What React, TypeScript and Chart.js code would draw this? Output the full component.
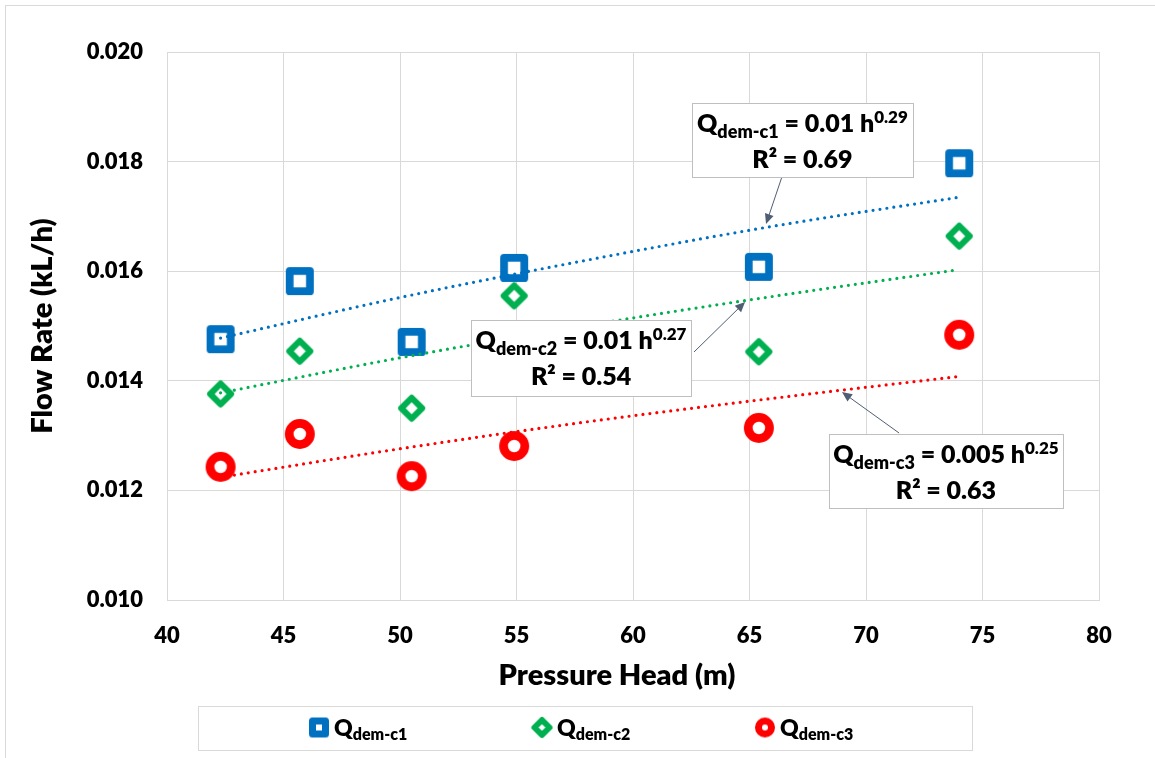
import React, { useEffect, useRef } from 'react';
import { Chart, registerables } from 'chart.js';

Chart.register(...registerables);

const FONT = 'Lato';
const W = '800';

// Measured data (pressure head in m, flow rate in kL/h)
const pressureHead = [42.3, 45.7, 50.5, 54.9, 65.4, 74.0];
const qDemC1 = [0.01476, 0.01582, 0.01471, 0.01606, 0.01608, 0.01797];
const qDemC2 = [0.01376, 0.01454, 0.0135, 0.01555, 0.01453, 0.01664];
const qDemC3 = [0.01243, 0.01303, 0.01226, 0.01281, 0.01314, 0.01484];

// Power trendlines
const trendHead = [42.3, 50, 58, 66, 74];
const trendC1 = [0.01478, 0.01552, 0.0162, 0.01682, 0.01735];
const trendC2 = [0.01378, 0.01442, 0.01501, 0.01554, 0.01603];
const trendC3 = [0.01224, 0.01276, 0.01325, 0.01368, 0.01408];

const seriesSubs = ['dem-c1', 'dem-c2', 'dem-c3'];
const eqCoef = ['0.01', '0.01', '0.005'];
const eqExp = ['0.29', '0.27', '0.25'];
const eqR2 = ['0.69', '0.54', '0.63'];

const xTitle = 'Pressure Head (m)';
const yTitle = 'Flow Rate (kL/h)';

const xTicksMin = 40;
const xTicksMax = 80;
const yTicksMin = 0.01;
const yTicksMax = 0.02;

const COLORS = ['#0070C0', '#00B050', '#FF0000'];

function makeMarker(kind: string, color: string, outer: number, lw: number): HTMLCanvasElement {
  const S = Math.ceil(outer + 6);
  const c = document.createElement('canvas');
  c.width = S;
  c.height = S;
  const ctx = c.getContext('2d')!;
  const m = S / 2;
  ctx.lineWidth = lw;
  ctx.strokeStyle = color;
  ctx.fillStyle = '#fff';
  ctx.lineJoin = 'round';
  ctx.beginPath();
  if (kind === 'square') {
    const h = (outer - lw) / 2;
    ctx.rect(m - h, m - h, 2 * h, 2 * h);
  } else if (kind === 'diamond') {
    const d = outer / 2 - lw / 2;
    ctx.moveTo(m, m - d);
    ctx.lineTo(m + d, m);
    ctx.lineTo(m, m + d);
    ctx.lineTo(m - d, m);
    ctx.closePath();
  } else {
    const r = (outer - lw) / 2;
    ctx.arc(m, m, r, 0, Math.PI * 2);
  }
  ctx.fill();
  ctx.stroke();
  return c;
}

type Seg = { text: string; size: number; dy: number };

function drawRich(ctx: CanvasRenderingContext2D, segs: Seg[], x0: number, baseline: number, align: 'center' | 'left') {
  const widths = segs.map((s) => {
    ctx.font = `${W} ${s.size}px ${FONT}`;
    return ctx.measureText(s.text).width;
  });
  const total = widths.reduce((a, b) => a + b, 0);
  let x = align === 'center' ? x0 - total / 2 : x0;
  ctx.textAlign = 'left';
  ctx.textBaseline = 'alphabetic';
  ctx.fillStyle = '#000';
  segs.forEach((s, i) => {
    ctx.font = `${W} ${s.size}px ${FONT}`;
    ctx.fillText(s.text, x, baseline + s.dy);
    x += widths[i];
  });
}

// Annotation anchors in data units: box center, box size (px), arrow start, arrow tip
const annoCenterX = [67.27, 57.77, 73.43];
const annoCenterY = [0.018394, 0.014407, 0.012354];
const annoW = [221, 220, 234];
const annoH = [74, 76, 74];
const arrowFromX = [66.39, 62.62, 71.42];
const arrowFromY = [0.017719, 0.014526, 0.013047];
const arrowToX = [65.71, 64.81, 68.97];
const arrowToY = [0.016861, 0.015438, 0.013796];

const overlayPlugin = {
  id: 'overlay',
  beforeDraw(chart: any) {
    const ctx = chart.ctx as CanvasRenderingContext2D;
    ctx.save();
    ctx.fillStyle = '#fff';
    ctx.fillRect(0, 0, chart.width, chart.height);
    ctx.restore();
  },
  afterDraw(chart: any) {
    const ctx = chart.ctx as CanvasRenderingContext2D;
    const xs = chart.scales.x;
    const ys = chart.scales.y;
    ctx.save();

    // outer chart border
    ctx.strokeStyle = '#D9D9D9';
    ctx.lineWidth = 1;
    ctx.strokeRect(5.5, 5.5, chart.width + 10, chart.height + 10);

    // x axis title (centred on the chart as in the original)
    ctx.font = `${W} 29px ${FONT}`;
    ctx.fillStyle = '#000';
    ctx.textAlign = 'center';
    ctx.textBaseline = 'middle';
    ctx.fillText(xTitle, 617, 676);

    for (let i = 0; i < 3; i++) {
      // arrow
      const fx = xs.getPixelForValue(arrowFromX[i]);
      const fy = ys.getPixelForValue(arrowFromY[i]);
      const tx = xs.getPixelForValue(arrowToX[i]);
      const ty = ys.getPixelForValue(arrowToY[i]);
      const ang = Math.atan2(ty - fy, tx - fx);
      ctx.strokeStyle = '#4F5E72';
      ctx.fillStyle = '#4F5E72';
      ctx.lineWidth = 1;
      ctx.beginPath();
      ctx.moveTo(fx, fy);
      ctx.lineTo(tx - Math.cos(ang) * 6, ty - Math.sin(ang) * 6);
      ctx.stroke();
      const hl = 10;
      const hw = 4.5;
      ctx.beginPath();
      ctx.moveTo(tx, ty);
      ctx.lineTo(tx - Math.cos(ang) * hl - Math.sin(ang) * hw, ty - Math.sin(ang) * hl + Math.cos(ang) * hw);
      ctx.lineTo(tx - Math.cos(ang) * hl + Math.sin(ang) * hw, ty - Math.sin(ang) * hl - Math.cos(ang) * hw);
      ctx.closePath();
      ctx.fill();

      // box
      const cx = xs.getPixelForValue(annoCenterX[i]);
      const cy = ys.getPixelForValue(annoCenterY[i]);
      const left = Math.round(cx - annoW[i] / 2) + 0.5;
      const top = Math.round(cy - annoH[i] / 2) + 0.5;
      ctx.fillStyle = '#fff';
      ctx.fillRect(left, top, annoW[i], annoH[i]);
      ctx.strokeStyle = '#BFBFBF';
      ctx.lineWidth = 1;
      ctx.strokeRect(left, top, annoW[i], annoH[i]);
      drawRich(
        ctx,
        [
          { text: 'Q', size: 25, dy: 0 },
          { text: seriesSubs[i], size: 18, dy: 6 },
          { text: ` = ${eqCoef[i]} h`, size: 25, dy: 0 },
          { text: eqExp[i], size: 17, dy: -9 },
        ],
        cx,
        top + 28,
        'center'
      );
      drawRich(ctx, [{ text: `R² = ${eqR2[i]}`, size: 25, dy: 0 }], cx, top + 64, 'center');
    }

    // legend
    ctx.fillStyle = '#fff';
    ctx.fillRect(198.5, 706.5, 774, 44);
    ctx.strokeStyle = '#D9D9D9';
    ctx.lineWidth = 1;
    ctx.strokeRect(198.5, 706.5, 774, 44);
    const legendCx = [319, 542, 765];
    const legendMarkers = [
      makeMarker('square', COLORS[0], 20, 7),
      makeMarker('diamond', COLORS[1], 21, 6),
      makeMarker('circle', COLORS[2], 20, 7),
    ];
    for (let i = 0; i < 3; i++) {
      const mk = legendMarkers[i];
      ctx.drawImage(mk, legendCx[i] - mk.width / 2, 727.5 - mk.height / 2);
      drawRich(
        ctx,
        [
          { text: 'Q', size: 23, dy: 0 },
          { text: seriesSubs[i], size: 16, dy: 4 },
        ],
        legendCx[i] + 15,
        736,
        'left'
      );
    }
    ctx.restore();
  },
};

export default function App() {
  const ref = useRef<HTMLCanvasElement | null>(null);

  useEffect(() => {
    document.body.style.margin = '0';
    const canvas = ref.current;
    if (!canvas) return;
    const markers = [
      makeMarker('square', COLORS[0], 28, 7.75),
      makeMarker('diamond', COLORS[1], 27, 6.2),
      makeMarker('circle', COLORS[2], 30, 8.75),
    ];
    const values = [qDemC1, qDemC2, qDemC3];
    const trends = [trendC1, trendC2, trendC3];
    const datasets: any[] = [];
    for (let i = 0; i < 3; i++) {
      datasets.push({
        label: 'Q' + seriesSubs[i],
        data: pressureHead.map((x, j) => ({ x, y: values[i][j] })),
        pointStyle: markers[i],
        pointRadius: 14,
        showLine: false,
        order: 1,
      });
    }
    for (let i = 0; i < 3; i++) {
      datasets.push({
        label: 'trend ' + seriesSubs[i],
        data: trendHead.map((x, j) => ({ x, y: trends[i][j] })),
        showLine: true,
        pointRadius: 0,
        borderColor: COLORS[i],
        borderWidth: 3.2,
        borderDash: [0, 7],
        borderCapStyle: 'round',
        tension: 0.4,
        cubicInterpolationMode: 'monotone',
        fill: false,
        order: 0,
      });
    }
    const titleFont = { family: FONT, size: 29, weight: W };
    const tickFont = { family: FONT, size: 22, weight: W };
    const chart = new Chart(canvas, {
      type: 'scatter',
      data: { datasets },
      plugins: [overlayPlugin],
      options: {
        animation: false,
        responsive: false,
        events: [],
        layout: { padding: { left: 0, top: 52, right: 56, bottom: 0 } },
        plugins: { legend: { display: false }, tooltip: { enabled: false } },
        scales: {
          x: {
            type: 'linear',
            min: xTicksMin,
            max: xTicksMax,
            ticks: { stepSize: 5, color: '#000', font: tickFont, padding: 23 },
            grid: { color: '#D9D9D9', drawTicks: false },
            border: { color: '#D9D9D9' },
            title: { display: false },
            afterFit: (s: any) => {
              s.height = 158;
            },
          },
          y: {
            type: 'linear',
            min: yTicksMin,
            max: yTicksMax,
            ticks: {
              stepSize: 0.002,
              color: '#000',
              font: tickFont,
              padding: 24,
              callback: (v: any) => Number(v).toFixed(3),
            },
            grid: { color: '#D9D9D9', drawTicks: false },
            border: { color: '#D9D9D9' },
            title: {
              display: true,
              text: yTitle,
              color: '#000',
              font: titleFont,
              padding: { top: 25, bottom: 0 },
            },
            afterFit: (s: any) => {
              s.width = 167;
            },
          },
        },
      } as any,
    });
    return () => chart.destroy();
  }, []);

  return (
    <div style={{ position: 'absolute', left: 0, top: 0, width: 1155, height: 758 }}>
      <canvas ref={ref} width={1155} height={758} style={{ width: 1155, height: 758 }} />
    </div>
  );
}
